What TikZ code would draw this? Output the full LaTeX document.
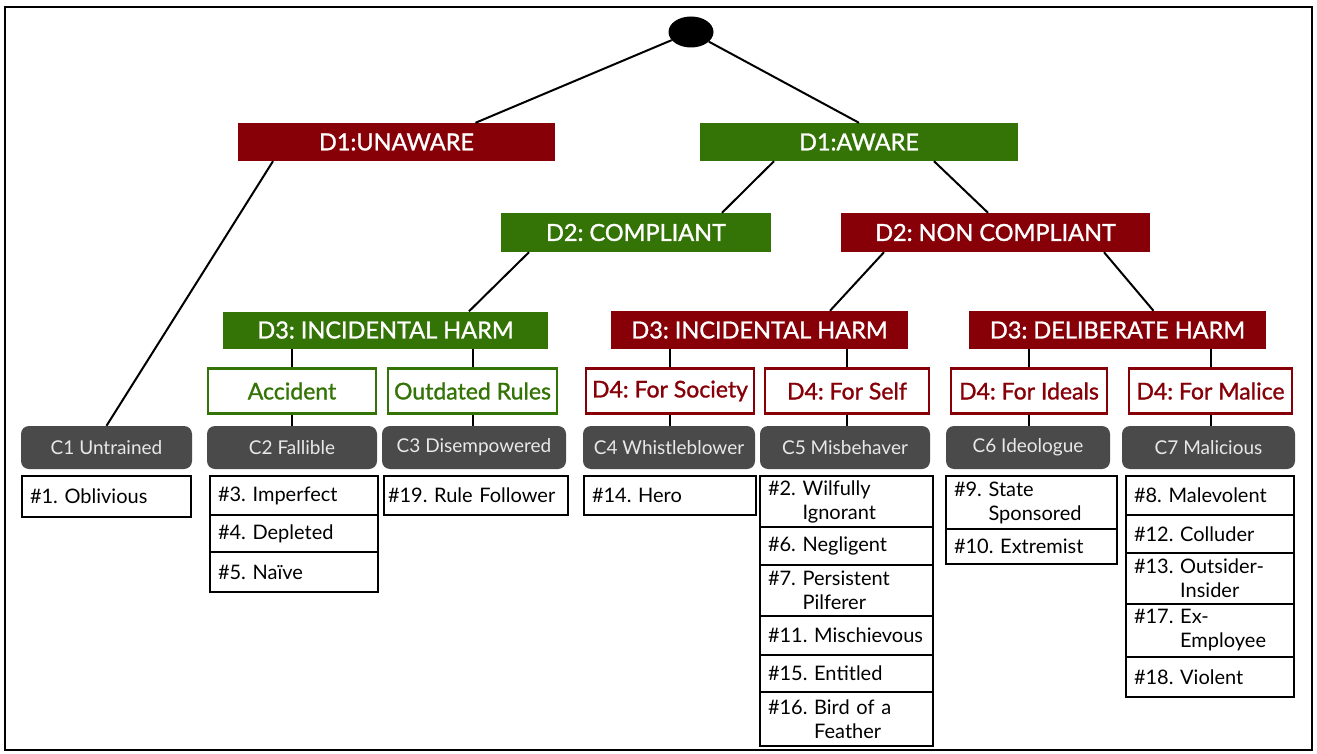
\documentclass[tikz,border=0pt]{standalone}
\usepackage{fontspec}
\setmainfont{Lato}
\newfontfamily\lato{Lato}
\newfontfamily\latoh[FakeBold=1.2]{Lato}
\usetikzlibrary{shapes.geometric}
\definecolor{dred}{RGB}{135,0,8}
\definecolor{dgreen}{RGB}{52,116,6}
\definecolor{cgray}{RGB}{74,74,74}
\definecolor{ctext}{RGB}{232,232,232}
\tikzset{
  heading/.style={fill=#1, text=white, inner sep=0pt, minimum height=38pt,
    font=\latoh\fontsize{23.5}{27}\selectfont},
  outl/.style={draw=#1, line width=2.5pt, fill=white, text=#1, inner sep=0pt, minimum height=45pt,
    font=\latoh\fontsize{23}{27}\selectfont},
  cbox/.style={fill=cgray, text=ctext, rounded corners=8pt, inner sep=0pt, minimum height=43pt,
    font=\lato\fontsize{19}{22}\selectfont},
  item/.style={draw=black, line width=2pt, inner xsep=8pt, inner ysep=0pt, align=left,
    font=\lato\fontsize{20}{24}\selectfont},
  conn/.style={draw=black, line width=2pt},
}
\begin{document}
\frenchspacing
\begin{tikzpicture}[x=1pt,y=-1pt]
\useasboundingbox (0,0) rectangle (1317,754);
\draw[line width=1.5pt] (5,7) rectangle (1312,750);

\node[ellipse, fill=black, minimum width=45pt, minimum height=31pt, inner sep=0pt] (root) at (691,32) {};

% D1
\node[heading=dred, minimum width=317pt] (d1u) at (396.5,142) {D1:UNAWARE};
\node[heading=dgreen, minimum width=318pt] (d1a) at (859,142) {D1:AWARE};
% D2
\node[heading=dgreen, minimum width=270pt, minimum height=39pt] (d2c) at (636,232.5) {D2: COMPLIANT};
\node[heading=dred, minimum width=309pt, minimum height=39pt] (d2n) at (995.5,232.5) {D2: NON COMPLIANT};
% D3
\node[heading=dgreen, minimum width=325pt, minimum height=37pt] (d3g) at (385.5,330) {D3: INCIDENTAL HARM};
\node[heading=dred, minimum width=297pt] (d3r) at (759.5,330) {D3: INCIDENTAL HARM};
\node[heading=dred, minimum width=297pt] (d3d) at (1117.5,330) {D3: DELIBERATE HARM};
% D4 / motives
\node[outl=dgreen, minimum width=168pt] (acc) at (292,391) {Accident};
\node[outl=dgreen, minimum width=169pt] (out) at (472.5,391) {Outdated Rules};
\node[outl=dred, minimum width=168pt] (soc) at (670,391) {D4: For Society};
\node[outl=dred, minimum width=164pt] (self) at (847,391) {D4: For Self};
\node[outl=dred, minimum width=156pt] (ide) at (1029,391) {D4: For Ideals};
\node[outl=dred, minimum width=163pt] (mal) at (1210.5,391) {D4: For Malice};
% C boxes
\node[cbox, minimum width=171pt] (c1) at (106.5,447.5) {C1 Untrained};
\node[cbox, minimum width=170pt] (c2) at (292,447.5) {C2 Fallible};
\node[cbox, minimum width=184pt] (c3) at (474,447.5) {C3 Disempowered};
\node[cbox, minimum width=172pt] (c4) at (669,447.5) {C4 Whistleblower};
\node[cbox, minimum width=170pt] (c5) at (845,447.5) {C5 Misbehaver};
\node[cbox, minimum width=164pt] (c6) at (1028,447.5) {C6 Ideologue};
\node[cbox, minimum width=173pt] (c7) at (1208.5,447.5) {C7 Malicious};

% lists
\node[item, text width=153pt, minimum height=41pt] (l1) at (106.5,496.5) {\#1. Oblivious};
\node[item, text width=152pt, minimum height=39pt] (l3) at (294,495.5) {\#3. Imperfect};
\node[item, text width=152pt, minimum height=37pt] (l4) at (294,533.5) {\#4. Depleted};
\node[item, text width=152pt, minimum height=40pt] (l5) at (294,572) {\#5. Naïve};
\node[item, minimum height=39pt, inner xsep=4pt, text width=176pt] (l19) at (476,495.5) {\#19. Rule Follower};
\node[item, text width=156pt, minimum height=39pt] (l14) at (670,495.5) {\#14. Hero};

\node[item, text width=157pt, minimum height=51pt] (l2) at (846.5,501.5) {\#2. Wilfully\\\phantom{\#2. }Ignorant};
\node[item, text width=157pt, minimum height=38pt] (l6) at (846.5,546) {\#6. Negligent};
\node[item, text width=157pt, minimum height=51pt] (l7) at (846.5,590.5) {\#7. Persistent\\\phantom{\#7. }Pilferer};
\node[item, text width=157pt, minimum height=39pt] (l11) at (846.5,635.5) {\#11. Mischievous};
\node[item, text width=157pt, minimum height=37pt] (l15) at (846.5,673.5) {\#15. Entitled};
\node[item, text width=157pt, minimum height=54pt] (l16) at (846.5,719) {\#16. Bird of a\\\phantom{\#16. }Feather};

\node[item, text width=155pt, minimum height=53pt] (l9) at (1031.5,502.5) {\#9. State\\\phantom{\#9. }Sponsored};
\node[item, text width=155pt, minimum height=35pt] (l10) at (1031.5,546.5) {\#10. Extremist};

\node[item, text width=152pt, minimum height=39pt] (l8) at (1210,495.5) {\#8. Malevolent};
\node[item, text width=152pt, minimum height=38pt] (l12) at (1210,534) {\#12. Colluder};
\node[item, text width=152pt, minimum height=51pt] (l13) at (1210,578.5) {\#13. Outsider-\\\phantom{\#13. }Insider};
\node[item, text width=152pt, minimum height=53pt] (l17) at (1210,630.5) {\#17. Ex-\\\phantom{\#17. }Employee};
\node[item, text width=152pt, minimum height=40pt] (l18) at (1210,677) {\#18. Violent};

% connectors
\draw[conn] (root) -- ([xshift=79pt]d1u.north);
\draw[conn] (root) -- (d1a.north);
\draw[conn] ([xshift=-123.5pt]d1u.south) -- (c1.north);
\draw[conn] ([xshift=-85pt]d1a.south) -- ([xshift=86pt]d2c.north);
\draw[conn] ([xshift=75pt]d1a.south) -- ([xshift=-7.5pt]d2n.north);
\draw[conn] ([xshift=-107pt]d2c.south) -- ([xshift=83.5pt]d3g.north);
\draw[conn] ([xshift=-111.5pt]d2n.south) -- ([xshift=70.5pt]d3r.north);
\draw[conn] ([xshift=108.5pt]d2n.south) -- ([xshift=36pt]d3d.north);

\foreach \a/\b in {d3g/acc, d3g/out, d3r/soc, d3r/self, d3d/ide, d3d/mal}
  \draw[conn] (\a.south -| \b.north) -- (\b.north);
\foreach \a/\b in {acc/c2, out/c3, soc/c4, self/c5, ide/c6, mal/c7}
  \draw[conn] (\a.south) -- (\a.south |- \b.north);
\end{tikzpicture}
\end{document}
